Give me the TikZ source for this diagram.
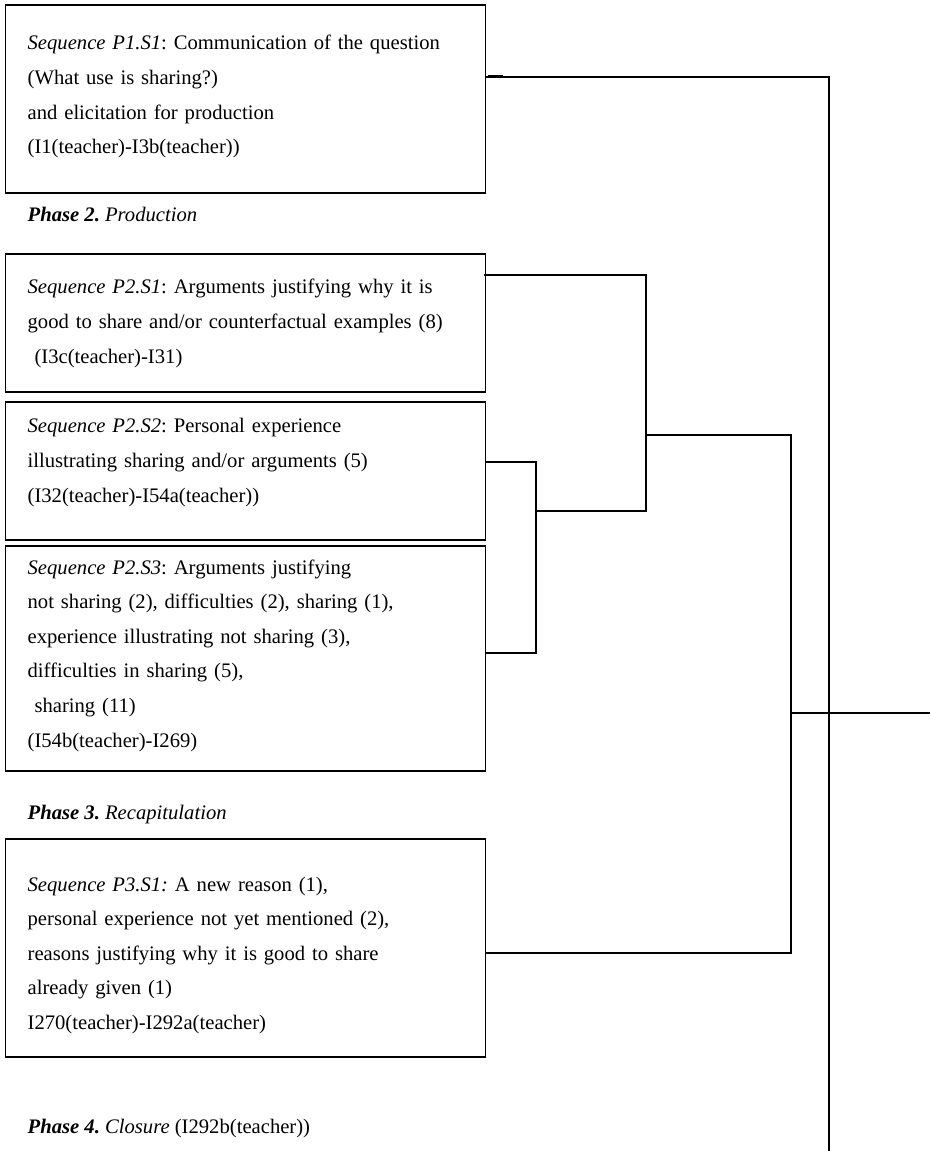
\documentclass[tikz,border=0pt]{standalone}
\usepackage{fontspec}
\setmainfont{Liberation Serif}
\usetikzlibrary{math, calc}
\frenchspacing

\begin{document}
\begin{tikzpicture}[x=0.02cm, y=-0.02cm, line width=0.75pt,
    seqbox/.style={draw, anchor=base west, align=left, inner xsep=0.44cm, inner ysep=0pt,
        text width=8.72cm, minimum width=9.6cm, font=\fontsize{11.75}{19.7}\selectfont},
    phase/.style={anchor=base west, inner sep=0pt, font=\fontsize{11.75}{14}\selectfont}]
    \tikzmath{
        \figweight=930;
        \figheight=1151;
        \boxleft=5;
        \textleft=27;
        \trunk=829;
        \midx=646;
        \outx=791;
        \brx=536;
    }

    \useasboundingbox (0, 0) rectangle (\figweight, \figheight);

    % phase 1
    \node [seqbox, text height=0.9cm, text depth=2.86cm] (s11) at (\boxleft, 50)
    {\textit{Sequence P1.S1}: Communication of the question\\
     (What use is sharing?)\\
     and elicitation for production\\
     (I1(teacher)-I3b(teacher))};

    % phase 2
    \node [phase] (ph2) at (\textleft, 222) {\textbf{\textit{Phase 2.}} \textit{Production}};
    \node [seqbox, text height=0.8cm, text depth=1.96cm] (s21) at (\boxleft, 294)
    {\textit{Sequence P2.S1}: Arguments justifying why it is\\
     good to share and/or counterfactual examples (8)\\
     ~(I3c(teacher)-I31)};
    \node [seqbox, text height=0.62cm, text depth=2.14cm] (s22) at (\boxleft, 433)
    {\textit{Sequence P2.S2}: Personal experience\\
     illustrating sharing and/or arguments (5)\\
     (I32(teacher)-I54a(teacher))};
    \node [seqbox, text height=0.56cm, text depth=3.94cm] (s23) at (\boxleft, 574)
    {\textit{Sequence P2.S3}: Arguments justifying\\
     not sharing (2), difficulties (2), sharing (1),\\
     experience illustrating not sharing (3),\\
     difficulties in sharing (5),\\
     ~sharing (11)\\
     (I54b(teacher)-I269)};

    % phase 3
    \node [phase] (ph3) at (\textleft, 819) {\textbf{\textit{Phase 3.}} \textit{Recapitulation}};
    \node [seqbox, text height=1.04cm, text depth=3.32cm] (s31) at (\boxleft, 891)
    {\textit{Sequence P3.S1:} A new reason (1),\\
     personal experience not yet mentioned (2),\\
     reasons justifying why it is good to share\\
     already given (1)\\
     I270(teacher)-I292a(teacher)};

    % phase 4
    \node [phase] (ph4) at (\textleft, 1133) {\textbf{\textit{Phase 4.}} \textit{Closure} (I292b(teacher))};

    % tree
    \coordinate (t1) at (\trunk, 77);
    \coordinate (tend) at (\trunk, \figheight);
    \draw (s11.east |- t1) -- (t1) -- (tend);
    \draw [line width=1.1pt] (488, 75.5) -- (503, 75.5);

    \coordinate (a1) at (\midx, 275);
    \coordinate (a2) at (\midx, 511);
    \coordinate (b1) at (\brx, 462);
    \coordinate (b2) at (\brx, 653);
    \draw ($ (s21.east |- a1) + (-2, 0) $) -- (a1) -- (a2) -- (b1 |- a2);
    \draw (s22.east |- b1) -- (b1) -- (b2) -- (s23.east |- b2);

    \coordinate (c1) at (\outx, 435);
    \coordinate (c2) at (\outx, 953);
    \coordinate (r1) at (\figweight, 713);
    \draw (a1 |- c1) -- (c1) -- (c2) -- (s31.east |- c2);
    \draw (c1 |- r1) -- (r1);
\end{tikzpicture}
\end{document}
